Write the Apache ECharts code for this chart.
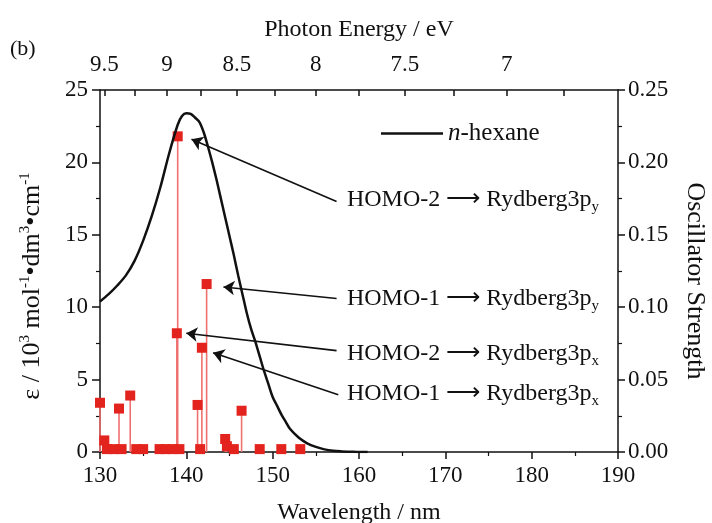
<!DOCTYPE html>
<html>
<head>
<meta charset="utf-8">
<script src="https://cdn.jsdelivr.net/npm/echarts@6/dist/echarts.min.js"></script>
<style>
  html, body { margin: 0; padding: 0; background: #fff; }
  #chart { width: 712px; height: 523px; }
</style>
</head>
<body>
<div id="chart"></div>
<script>
// n-hexane absorption curve (wavelength nm -> epsilon / 10^3)
var wavelength = [130, 131, 132, 133, 134, 135, 136, 137, 138, 139, 139.5, 140, 140.5, 141, 141.5, 142, 142.5, 143, 143.5, 144, 144.5, 145, 145.5, 146, 146.5, 147, 147.5, 148, 148.5, 149, 149.5, 150, 150.5, 151, 151.5, 152, 153, 154, 155, 156, 157, 158, 159, 160, 161];
var epsilon = [10.4, 10.9, 11.5, 12.2, 13.2, 14.6, 16.3, 18.3, 20.6, 22.6, 23.2, 23.4, 23.35, 23.1, 22.8, 22.1, 21.1, 20.0, 18.8, 17.5, 16.2, 14.9, 13.6, 12.2, 10.9, 9.6, 8.5, 7.6, 6.6, 5.6, 4.7, 3.8, 3.2, 2.6, 2.1, 1.6, 1.0, 0.6, 0.35, 0.18, 0.08, 0.04, 0.02, 0.0, 0.0];

// calculated transitions (wavelength nm -> oscillator strength)
var stickWl = [130.0, 130.5, 130.8, 131.6, 132.2, 132.5, 133.5, 134.2, 135.0, 136.9, 137.6, 138.4, 138.9, 139.0, 139.2, 141.3, 141.6, 141.8, 142.35, 144.5, 144.7, 145.5, 146.4, 148.5, 151.0, 153.2];
var stickF = [0.034, 0.008, 0.002, 0.002, 0.030, 0.002, 0.039, 0.002, 0.002, 0.002, 0.002, 0.002, 0.082, 0.218, 0.002, 0.0325, 0.002, 0.072, 0.116, 0.009, 0.004, 0.002, 0.0285, 0.002, 0.002, 0.002];

// photon energy ticks for the top axis
var energyLabels = [9.5, 9, 8.5, 8, 7.5, 7];
var energyTicks = [9.5, 9.25, 9, 8.75, 8.5, 8.25, 8, 7.75, 7.5, 7.25, 7, 6.75];

// annotations
var annoMain = ['HOMO-2 \u27f6 Rydberg3p', 'HOMO-1 \u27f6 Rydberg3p', 'HOMO-2 \u27f6 Rydberg3p', 'HOMO-1 \u27f6 Rydberg3p'];
var annoSub = ['y', 'y', 'x', 'x'];
var annoAt = [[158.6, 17.4], [158.6, 10.6], [158.6, 6.8], [158.6, 4.05]];
var arrowFrom = [[157.4, 17.3], [157.4, 10.6], [157.4, 7.0], [157.6, 3.95]];
var arrowTo = [[140.6, 21.6], [144.3, 11.4], [140.0, 8.2], [143.1, 6.86]];

var hc = 1239.84;
var FONT = 'Liberation Serif';

var curveData = wavelength.map(function (w, i) { return [w, epsilon[i]]; });
var stickData = stickWl.map(function (w, i) { return [w, stickF[i]]; });
var textData = annoAt.map(function (p, i) { return { value: p, main: annoMain[i], sub: annoSub[i] }; });
var arrowData = arrowFrom.map(function (p, i) { return { coords: [p, arrowTo[i]] }; });

var myChart = echarts.init(document.getElementById('chart'));

var option = {
    backgroundColor: '#fff',
    animation: false,
    textStyle: { fontFamily: FONT },
    grid: { left: 100, right: 94, top: 90, bottom: 71, containLabel: false, outerBoundsMode: 'none' },
    graphic: [{
        type: 'text', left: 10, top: 38,
        style: { text: '(b)', font: '22px "Liberation Serif"', fill: '#111' }
    }],
    legend: {
        left: 376, top: 116,
        itemWidth: 62, itemHeight: 2.5, itemGap: 8,
        icon: 'rect',
        data: ['n-hexane'],
        formatter: function () { return '{i|n}-hexane'; },
        textStyle: {
            fontFamily: FONT, fontSize: 25, color: '#111',
            rich: { i: { fontFamily: FONT, fontSize: 25, fontStyle: 'italic', color: '#111' } }
        }
    },
    xAxis: [{
        type: 'value', position: 'bottom',
        min: 130, max: 190, interval: 10,
        name: 'Wavelength / nm', nameLocation: 'middle', nameGap: 49,
        nameTextStyle: { fontFamily: FONT, fontSize: 24, color: '#111' },
        axisLine: { onZero: false, lineStyle: { color: '#111', width: 1.5 } },
        axisTick: { inside: false, length: 7, lineStyle: { color: '#111', width: 1.5 } },
        minorTick: { show: true, splitNumber: 2, length: 4, lineStyle: { color: '#111', width: 1.2 } },
        axisLabel: { fontFamily: FONT, fontSize: 23, color: '#111', margin: 12 },
        splitLine: { show: false }
    }, {
        type: 'value', position: 'top',
        min: 130, max: 190,
        name: 'Photon Energy / eV', nameLocation: 'middle', nameGap: 48,
        nameTextStyle: { fontFamily: FONT, fontSize: 24, color: '#111' },
        axisLine: { show: true, onZero: false, lineStyle: { color: '#111', width: 1.5 } },
        axisTick: {
            show: true, inside: true, length: 6,
            customValues: energyTicks.map(function (e) { return hc / e; }),
            lineStyle: { color: '#111', width: 1.5 }
        },
        axisLabel: {
            fontFamily: FONT, fontSize: 23, color: '#111', margin: 14,
            customValues: energyLabels.map(function (e) { return hc / e; }),
            formatter: function (v) { return String(Math.round(hc / v * 2) / 2); }
        },
        splitLine: { show: false }
    }],
    yAxis: [{
        type: 'value', position: 'left',
        min: 0, max: 25, interval: 5,
        name: '\u03b5 / 10{sup|3} mol{sup|-1}\u2022dm{sup|3}\u2022cm{sup|-1}',
        nameLocation: 'middle', nameGap: 54,
        nameTextStyle: {
            fontFamily: FONT, fontSize: 26, color: '#111', lineHeight: 28,
            padding: [0, 30, 0, 0],
            rich: { sup: { fontFamily: FONT, fontSize: 15, color: '#111', verticalAlign: 'top', lineHeight: 28 } }
        },
        axisLine: { onZero: false, lineStyle: { color: '#111', width: 1.5 } },
        axisTick: { inside: false, length: 8, lineStyle: { color: '#111', width: 1.5 } },
        minorTick: { show: true, splitNumber: 2, length: 4, lineStyle: { color: '#111', width: 1.2 } },
        axisLabel: { fontFamily: FONT, fontSize: 23, color: '#111', margin: 12 },
        splitLine: { show: false }
    }, {
        type: 'value', position: 'right',
        min: 0, max: 0.25, interval: 0.05,
        name: 'Oscillator Strength', nameLocation: 'middle', nameGap: 64, nameRotate: -90,
        nameTextStyle: { fontFamily: FONT, fontSize: 26, color: '#111', padding: [0, 0, 0, 20] },
        axisLine: { onZero: false, lineStyle: { color: '#111', width: 1.5 } },
        axisTick: { inside: false, length: 7, lineStyle: { color: '#111', width: 1.5 } },
        minorTick: { show: true, splitNumber: 2, length: 4, lineStyle: { color: '#111', width: 1.2 } },
        axisLabel: {
            fontFamily: FONT, fontSize: 23, color: '#111', margin: 10,
            formatter: function (v) { return v.toFixed(2); }
        },
        splitLine: { show: false }
    }],
    series: [
        {
            name: 'sticks',
            type: 'custom',
            xAxisIndex: 0, yAxisIndex: 1,
            data: stickData,
            renderItem: function (params, api) {
                var top = api.coord([api.value(0), api.value(1)]);
                var base = api.coord([api.value(0), 0]);
                return {
                    type: 'line',
                    shape: { x1: base[0], y1: base[1], x2: top[0], y2: top[1] },
                    style: { stroke: '#f07070', lineWidth: 1.6 }
                };
            },
            z: 2
        },
        {
            name: 'squares',
            type: 'scatter',
            xAxisIndex: 0, yAxisIndex: 1,
            data: stickData,
            symbol: 'rect', symbolSize: 10,
            itemStyle: { color: '#e3231d', opacity: 1 },
            z: 3
        },
        {
            name: 'n-hexane',
            type: 'line',
            xAxisIndex: 0, yAxisIndex: 0,
            data: curveData,
            smooth: 0.3,
            symbol: 'none',
            lineStyle: { color: '#111', width: 2.5 },
            itemStyle: { color: '#111' },
            z: 4
        },
        {
            name: 'arrows',
            type: 'lines',
            coordinateSystem: 'cartesian2d',
            xAxisIndex: 0, yAxisIndex: 0,
            data: arrowData,
            symbol: ['none', 'arrow'],
            symbolSize: 11,
            lineStyle: { color: '#111', width: 1.6, opacity: 1 },
            z: 5
        },
        {
            name: 'labels',
            type: 'scatter',
            xAxisIndex: 0, yAxisIndex: 0,
            data: textData,
            symbolSize: 0,
            silent: true,
            itemStyle: { opacity: 1, color: '#111' },
            label: {
                show: true, position: 'right', distance: 0, color: '#111', opacity: 1,
                formatter: function (p) { return '{m|' + p.data.main + '}{s|' + p.data.sub + '}'; },
                rich: {
                    m: { fontFamily: FONT, fontSize: 24, color: '#111', lineHeight: 30 },
                    s: { fontFamily: FONT, fontSize: 15, color: '#111', verticalAlign: 'bottom', lineHeight: 30 }
                }
            },
            z: 6
        }
    ]
};
myChart.setOption(option);
</script>
</body>
</html>
